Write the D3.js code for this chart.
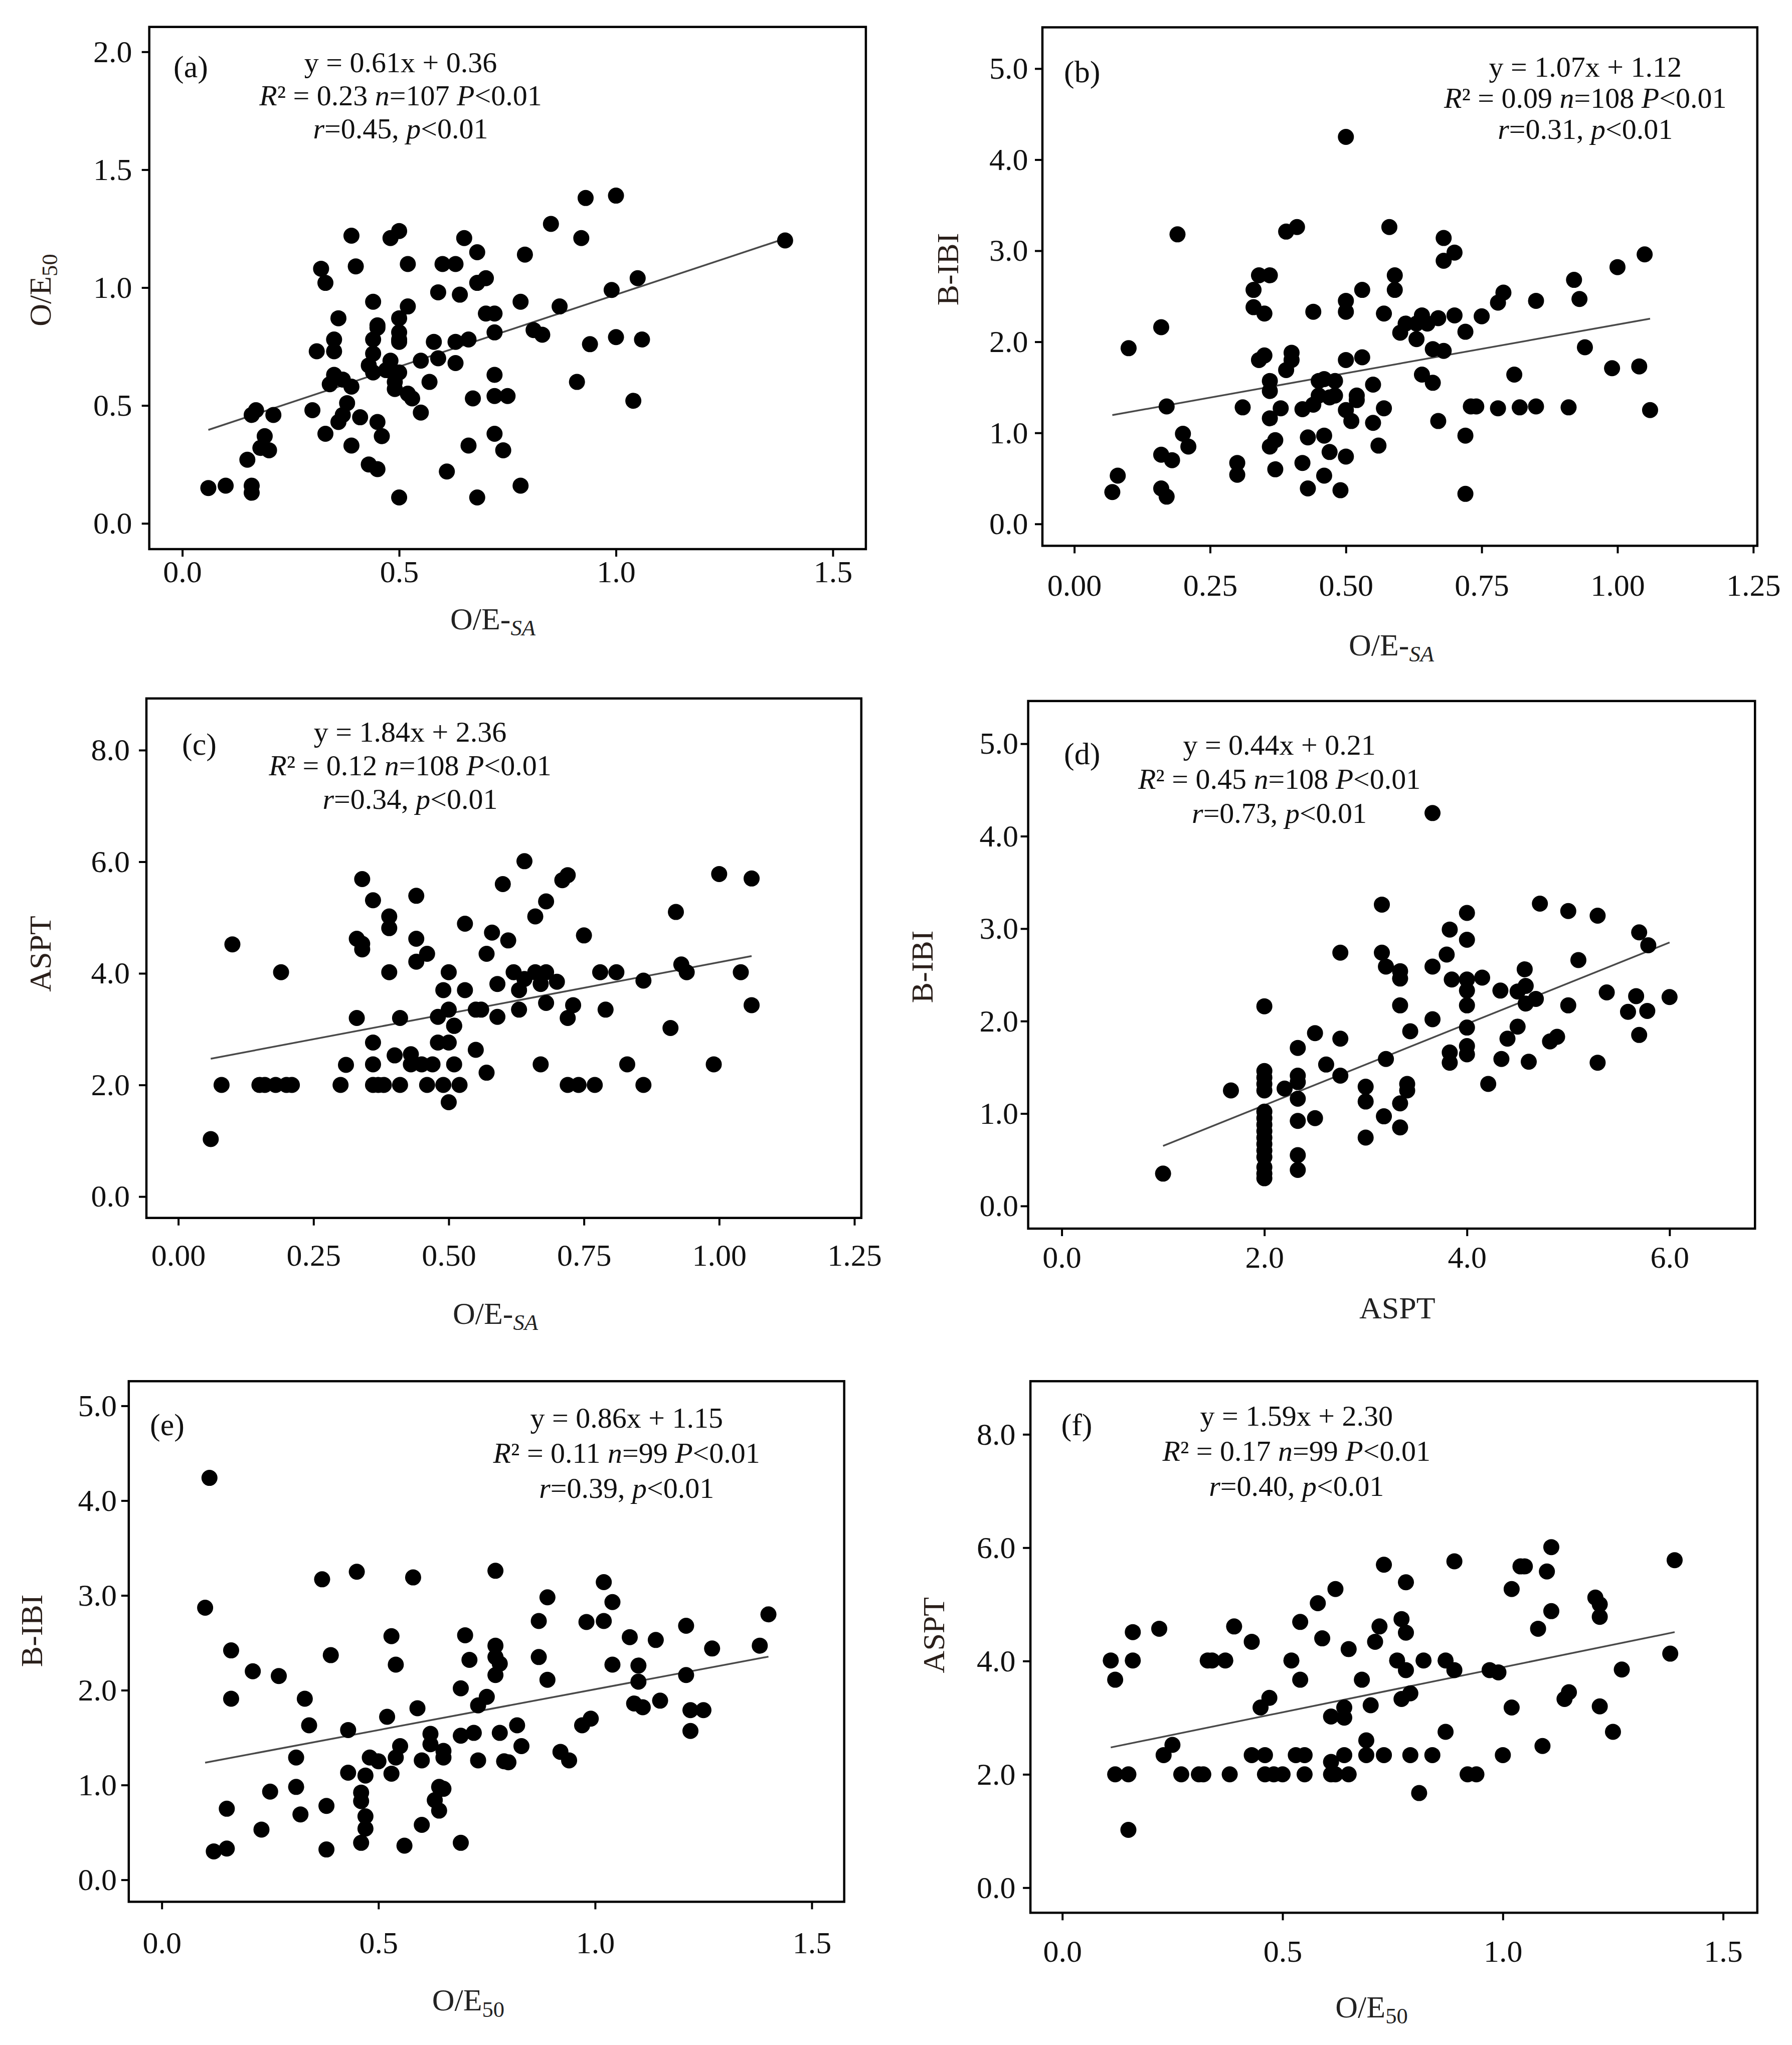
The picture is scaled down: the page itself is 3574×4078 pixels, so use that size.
<!DOCTYPE html>
<html>
<head>
<meta charset="utf-8">
<script src="https://cdn.jsdelivr.net/npm/d3@7"></script>
<style>
  body { margin: 0; background: #fff; }
  svg text { font-family: "Liberation Serif", "Times New Roman", serif; }
</style>
</head>
<body>
<svg id="fig"></svg>
<script>
// ---- data ----
var ptsA = [[0.06,0.15],[0.10,0.16],[0.16,0.16],[0.16,0.13],[0.15,0.27],[0.16,0.46],[0.17,0.48],[0.21,0.46],[0.19,0.37],[0.18,0.32],[0.20,0.31],[0.30,0.48],[0.33,0.38],[0.31,0.73],[0.32,1.08],[0.33,1.02],[0.35,0.78],[0.35,0.73],[0.36,0.87],[0.35,0.63],[0.34,0.59],[0.37,0.61],[0.39,0.58],[0.38,0.51],[0.37,0.46],[0.36,0.43],[0.39,0.33],[0.41,0.45],[0.39,1.22],[0.40,1.09],[0.44,0.94],[0.44,0.78],[0.45,0.83],[0.44,0.72],[0.43,0.67],[0.44,0.64],[0.45,0.43],[0.46,0.37],[0.43,0.25],[0.45,0.23],[0.48,0.69],[0.47,0.65],[0.49,0.57],[0.49,0.60],[0.50,0.81],[0.50,0.87],[0.50,0.77],[0.50,0.64],[0.48,1.21],[0.50,1.24],[0.52,1.10],[0.52,0.92],[0.52,0.55],[0.53,0.53],[0.55,0.47],[0.50,0.11],[0.55,0.69],[0.57,0.60],[0.58,0.77],[0.59,0.70],[0.59,0.98],[0.60,1.10],[0.61,0.22],[0.63,0.77],[0.64,0.97],[0.63,1.10],[0.63,0.68],[0.65,1.21],[0.66,0.78],[0.67,0.53],[0.66,0.33],[0.68,1.15],[0.68,1.02],[0.70,1.04],[0.70,0.89],[0.72,0.89],[0.72,0.81],[0.72,0.63],[0.72,0.54],[0.75,0.54],[0.72,0.38],[0.74,0.31],[0.68,0.11],[0.78,0.94],[0.78,0.16],[0.79,1.14],[0.81,0.82],[0.83,0.80],[0.85,1.27],[0.87,0.92],[0.91,0.60],[0.92,1.21],[0.93,1.38],[0.94,0.76],[0.99,0.99],[1.00,1.39],[1.00,0.79],[1.04,0.52],[1.05,1.04],[1.06,0.78],[1.39,1.20],[0.45,0.84],[0.50,0.78]];

var ptsB = [[0.07,0.35],[0.08,0.53],[0.10,1.93],[0.16,2.16],[0.17,1.29],[0.16,0.76],[0.18,0.70],[0.16,0.39],[0.17,0.30],[0.19,3.18],[0.20,0.99],[0.21,0.85],[0.30,0.67],[0.30,0.54],[0.31,1.28],[0.33,2.57],[0.33,2.38],[0.35,2.31],[0.34,2.73],[0.36,2.73],[0.34,1.80],[0.35,1.85],[0.36,1.46],[0.36,1.57],[0.36,1.16],[0.36,0.85],[0.37,0.92],[0.37,0.60],[0.38,1.27],[0.39,1.69],[0.40,1.80],[0.40,1.88],[0.39,3.21],[0.41,3.26],[0.42,1.26],[0.42,0.67],[0.43,0.39],[0.43,0.95],[0.44,1.31],[0.44,2.33],[0.45,1.57],[0.46,1.59],[0.45,1.41],[0.46,0.97],[0.47,0.79],[0.46,0.53],[0.47,1.39],[0.48,1.41],[0.48,1.57],[0.49,0.37],[0.50,4.25],[0.50,2.45],[0.50,2.33],[0.50,1.80],[0.50,1.25],[0.50,0.74],[0.51,1.13],[0.52,1.41],[0.52,1.36],[0.53,2.57],[0.53,1.83],[0.55,1.11],[0.55,1.53],[0.56,0.86],[0.57,1.27],[0.57,2.31],[0.58,3.26],[0.59,2.57],[0.59,2.73],[0.60,2.10],[0.61,2.20],[0.63,2.20],[0.64,2.29],[0.63,2.03],[0.64,1.64],[0.65,2.20],[0.66,1.92],[0.66,1.55],[0.67,1.13],[0.68,1.90],[0.68,3.14],[0.68,2.89],[0.70,2.98],[0.70,2.29],[0.72,0.97],[0.72,2.11],[0.73,1.29],[0.72,0.33],[0.74,1.29],[0.75,2.28],[0.78,1.27],[0.78,2.43],[0.79,2.54],[0.81,1.64],[0.82,1.28],[0.85,1.29],[0.85,2.45],[0.91,1.28],[0.92,2.68],[0.93,2.47],[0.94,1.94],[0.99,1.71],[1.00,2.82],[1.04,1.73],[1.05,2.96],[1.06,1.25],[0.67,2.26]];

var ptsC = [[0.06,1.03],[0.08,2.00],[0.10,4.52],[0.19,4.02],[0.15,2.00],[0.16,2.00],[0.18,2.00],[0.20,2.00],[0.21,2.00],[0.30,2.00],[0.31,2.36],[0.33,4.62],[0.34,4.43],[0.34,4.53],[0.34,5.69],[0.33,3.20],[0.36,2.76],[0.36,2.37],[0.36,2.00],[0.37,2.00],[0.38,2.00],[0.36,5.31],[0.39,5.02],[0.39,4.81],[0.39,4.02],[0.40,2.53],[0.41,3.20],[0.41,2.00],[0.43,2.55],[0.44,4.21],[0.44,5.39],[0.44,4.62],[0.46,4.35],[0.43,2.37],[0.45,2.37],[0.47,2.37],[0.46,2.00],[0.49,2.00],[0.48,3.22],[0.48,2.76],[0.50,4.02],[0.49,3.70],[0.50,3.35],[0.50,2.76],[0.51,3.06],[0.51,3.06],[0.50,1.69],[0.51,2.37],[0.52,2.00],[0.53,4.89],[0.53,3.70],[0.55,3.35],[0.56,3.35],[0.55,2.63],[0.57,2.22],[0.57,4.35],[0.58,4.73],[0.59,3.22],[0.59,3.81],[0.60,5.60],[0.61,4.59],[0.62,4.02],[0.63,3.70],[0.63,3.35],[0.64,6.01],[0.64,3.90],[0.66,5.02],[0.66,4.02],[0.67,3.81],[0.67,2.37],[0.68,4.02],[0.68,3.47],[0.68,5.29],[0.70,3.85],[0.71,5.67],[0.72,5.76],[0.72,3.20],[0.73,3.43],[0.72,2.00],[0.74,2.00],[0.75,4.68],[0.77,2.00],[0.78,4.02],[0.81,4.02],[0.79,3.35],[0.83,2.37],[0.86,3.87],[0.86,2.00],[0.91,3.02],[0.92,5.10],[0.93,4.16],[0.94,4.02],[0.99,2.37],[1.00,5.78],[1.04,4.02],[1.06,5.70],[1.06,3.43]];

var ptsD = [[1.00,0.35],[1.67,1.25],[2.00,2.16],[2.00,1.46],[2.00,1.39],[2.00,1.32],[2.00,1.25],[2.00,1.02],[2.00,0.95],[2.00,0.88],[2.00,0.81],[2.00,0.74],[2.00,0.67],[2.00,0.60],[2.00,0.53],[2.00,0.42],[2.00,0.35],[2.00,0.30],[2.20,1.27],[2.33,1.71],[2.33,1.41],[2.33,1.34],[2.33,1.16],[2.33,0.92],[2.33,0.55],[2.33,0.39],[2.50,1.87],[2.50,0.95],[2.61,1.53],[2.75,2.74],[2.75,1.81],[2.75,1.41],[3.00,1.29],[3.00,1.13],[3.00,0.74],[3.16,3.26],[3.16,2.74],[3.20,2.59],[3.20,1.59],[3.18,0.97],[3.34,2.54],[3.34,2.46],[3.34,2.17],[3.34,1.11],[3.34,0.85],[3.41,1.32],[3.41,1.25],[3.44,1.89],[3.66,2.59],[3.66,4.25],[3.66,2.02],[3.80,2.72],[3.83,2.99],[3.85,2.45],[3.83,1.66],[3.83,1.55],[4.00,3.17],[4.00,2.88],[4.00,2.45],[4.00,2.33],[4.00,2.17],[4.00,1.93],[4.00,1.73],[4.00,1.64],[4.15,2.47],[4.21,1.32],[4.33,2.33],[4.34,1.59],[4.40,1.81],[4.50,1.94],[4.50,2.32],[4.57,2.56],[4.58,2.38],[4.58,2.19],[4.61,1.56],[4.68,2.24],[4.72,3.27],[4.82,1.78],[4.89,1.83],[5.00,3.19],[5.00,2.17],[5.10,2.66],[5.29,3.14],[5.29,1.55],[5.38,2.31],[5.59,2.10],[5.67,2.27],[5.70,2.96],[5.70,1.85],[5.79,2.82],[5.78,2.11],[6.00,2.26]];

var ptsE = [[0.11,4.24],[0.10,2.87],[0.16,2.42],[0.16,1.91],[0.15,0.75],[0.12,0.30],[0.15,0.33],[0.21,2.20],[0.23,0.53],[0.25,0.93],[0.27,2.15],[0.31,1.29],[0.31,0.98],[0.33,1.91],[0.34,1.63],[0.32,0.69],[0.37,3.17],[0.39,2.37],[0.38,0.78],[0.38,0.32],[0.43,1.58],[0.43,1.13],[0.45,3.25],[0.46,0.92],[0.46,0.83],[0.47,1.10],[0.47,0.67],[0.47,0.54],[0.46,0.39],[0.48,1.29],[0.50,1.25],[0.52,1.72],[0.53,1.12],[0.53,2.57],[0.54,2.27],[0.55,1.41],[0.54,1.29],[0.56,0.36],[0.58,3.19],[0.59,1.81],[0.60,1.26],[0.60,0.58],[0.62,1.54],[0.62,1.43],[0.63,0.84],[0.64,0.98],[0.65,0.96],[0.64,0.73],[0.65,1.36],[0.65,1.29],[0.69,2.02],[0.69,1.52],[0.69,0.39],[0.70,2.58],[0.71,2.32],[0.72,1.55],[0.73,1.84],[0.73,1.26],[0.75,1.93],[0.77,3.26],[0.77,2.47],[0.77,2.35],[0.78,2.28],[0.77,2.16],[0.78,1.55],[0.79,1.25],[0.80,1.24],[0.82,1.63],[0.83,1.41],[0.87,2.73],[0.87,2.35],[0.89,2.11],[0.89,2.98],[0.92,1.35],[0.94,1.26],[0.97,1.63],[0.99,1.70],[0.98,2.72],[1.02,2.73],[1.02,3.14],[1.04,2.93],[1.04,2.27],[1.08,2.56],[1.10,2.09],[1.09,1.86],[1.11,1.82],[1.10,2.26],[1.14,2.53],[1.15,1.89],[1.21,2.68],[1.21,2.16],[1.22,1.79],[1.25,1.79],[1.22,1.57],[1.27,2.44],[1.38,2.47],[1.40,2.80]];

var ptsF = [[0.11,4.01],[0.12,3.67],[0.12,2.00],[0.15,2.00],[0.15,1.02],[0.16,4.51],[0.16,4.01],[0.22,4.57],[0.23,2.34],[0.25,2.52],[0.27,2.00],[0.31,2.00],[0.32,2.00],[0.33,4.01],[0.34,4.01],[0.37,4.01],[0.38,2.00],[0.39,4.61],[0.43,4.34],[0.43,2.34],[0.45,3.18],[0.46,2.34],[0.46,2.00],[0.48,2.00],[0.50,2.00],[0.47,3.35],[0.52,4.01],[0.54,3.67],[0.54,4.69],[0.53,2.34],[0.55,2.34],[0.55,2.00],[0.58,5.02],[0.59,4.40],[0.61,3.02],[0.61,2.22],[0.61,2.00],[0.62,2.00],[0.65,2.00],[0.62,5.27],[0.64,3.18],[0.64,3.00],[0.64,2.34],[0.65,4.21],[0.68,3.67],[0.69,2.34],[0.69,2.60],[0.70,3.22],[0.71,4.34],[0.72,4.61],[0.73,5.70],[0.73,2.34],[0.76,4.01],[0.77,4.74],[0.78,4.50],[0.77,3.33],[0.79,3.43],[0.78,5.39],[0.78,3.84],[0.79,2.34],[0.81,1.67],[0.82,4.01],[0.84,2.34],[0.87,2.75],[0.87,4.01],[0.89,3.84],[0.89,5.76],[0.92,2.00],[0.94,2.00],[0.97,3.84],[0.99,3.80],[1.00,2.34],[1.02,3.18],[1.02,5.27],[1.04,5.67],[1.05,5.67],[1.08,4.57],[1.09,2.50],[1.10,5.58],[1.11,6.01],[1.11,4.88],[1.14,3.33],[1.15,3.45],[1.21,5.12],[1.22,5.00],[1.22,4.78],[1.22,3.20],[1.25,2.75],[1.27,3.85],[1.38,4.13],[1.39,5.78]];

// regression fits printed on each panel
var tags = ['(a)', '(b)', '(c)', '(d)', '(e)', '(f)'];
var slopes = [0.61, 1.07, 1.84, 0.44, 0.86, 1.59];
var intercepts = [0.36, 1.12, 2.36, 0.21, 1.15, 2.30];
var rSquared = ['0.23', '0.09', '0.12', '0.45', '0.11', '0.17'];
var nSamples = ['107', '108', '108', '108', '99', '99'];
var rValues = ['0.45', '0.31', '0.34', '0.73', '0.39', '0.40'];

// tick labels
var ticksOE = [0, 0.5, 1.0, 1.5];
var ticksSA = [0, 0.25, 0.5, 0.75, 1.0, 1.25];
var ticksASPTx = [0, 2, 4, 6];
var ticksOEy = [0, 0.5, 1.0, 1.5, 2.0];
var ticksIBI = [0, 1, 2, 3, 4, 5];
var ticksASPTy = [0, 2, 4, 6, 8];

// axis titles: [main, subscript, italic subscript?]
var titleOESA = ['O/E-', 'SA', true];
var titleOE50 = ['O/E', '50', false];
var titleIBI = ['B-IBI', '', false];
var titleASPT = ['ASPT', '', false];

var FS_TICK = 62, FS_ANN = 58, FS_TITLE = 62, TICK_LEN = 15, DOT_R = 16;

// layout per panel (pixels)
var panels = [
  { pts: ptsA, xt: ticksOE, yt: ticksOEy, xf: '.1f', yf: '.1f', xTitle: titleOESA, yTitle: titleOE50,
    x0: 363.6, x1: 1661, xv1: 1.5, y0: 1043.7, y1: 103.3, yv1: 2,
    box: [297.7, 53.7, 1726.9, 1095], xlabY: 1140, xtit: [983, 1233], ylabR: 263.6, ytit: [79.5, 578.5],
    tag: [346, 132], ann: [799, 124, 66] },
  { pts: ptsB, xt: ticksSA, yt: ticksIBI, xf: '.2f', yf: '.1f', xTitle: titleOESA, yTitle: titleIBI,
    x0: 2142.6, x1: 3496.8, xv1: 1.25, y0: 1044.8, y1: 136.8, yv1: 5,
    box: [2079, 54.5, 3504.8, 1088.4], xlabY: 1166.5, xtit: [2775, 1285], ylabR: 2050.6, ytit: [1889, 537],
    tag: [2122, 142.7], ann: [3161.7, 132.6, 62] },
  { pts: ptsC, xt: ticksSA, yt: ticksASPTy, xf: '.2f', yf: '.1f', xTitle: titleOESA, yTitle: titleASPT,
    x0: 355.6, x1: 1704, xv1: 1.25, y0: 2386.1, y1: 1495.9, yv1: 8,
    box: [292, 1392.8, 1717.8, 2428.7], xlabY: 2502.8, xtit: [988, 2617.9], ylabR: 259, ytit: [79.5, 1902],
    tag: [363, 1483], ann: [818, 1459, 67] },
  { pts: ptsD, xt: ticksASPTx, yt: ticksIBI, xf: '.1f', yf: '.1f', xTitle: titleASPT, yTitle: titleIBI,
    x0: 2117.6, x1: 3329.8, xv1: 6, y0: 2404.9, y1: 1483.1, yv1: 5,
    box: [2050.6, 1397.9, 3500.2, 2450], xlabY: 2507, xtit: [2786.8, 2607.6], ylabR: 2031, ytit: [1838, 1927.8],
    tag: [2122, 1501.9], ann: [2551.6, 1484.8, 68] },
  { pts: ptsE, xt: ticksOE, yt: ticksIBI, xf: '.1f', yf: '.1f', xTitle: titleOE50, yTitle: titleIBI,
    x0: 322.7, x1: 1619, xv1: 1.5, y0: 3748.6, y1: 2803.4, yv1: 5,
    box: [256.8, 2754.3, 1683.7, 3792.4], xlabY: 3873.8, xtit: [933.9, 3987.7], ylabR: 233, ytit: [62.5, 3251.9],
    tag: [299, 2840], ann: [1249.7, 2827, 70] },
  { pts: ptsF, xt: ticksOE, yt: ticksASPTy, xf: '.1f', yf: '.1f', xTitle: titleOE50, yTitle: titleASPT,
    x0: 2118.7, x1: 3436.6, xv1: 1.5, y0: 3764.3, y1: 2860.3, yv1: 8,
    box: [2055.1, 2754.3, 3504.8, 3814.3], xlabY: 3891.4, xtit: [2735.6, 4000.9], ylabR: 2025.6, ytit: [1860.8, 3260.6],
    tag: [2116.5, 2840], ann: [2585.7, 2822.6, 70] }
];

var svg = d3.select('#fig').attr('width', 3574).attr('height', 4078);

function addTitle(sel, t) {
  sel.append('tspan').text(t[0]);
  if (t[1]) {
    sel.append('tspan')
      .attr('font-size', '0.72em')
      .attr('dy', '0.28em')
      .attr('font-style', t[2] ? 'italic' : 'normal')
      .text(t[1]);
  }
}

panels.forEach(function (p, i) {
  var g = svg.append('g').attr('class', 'panel');
  var b = p.box;

  var x = d3.scaleLinear().domain([0, p.xv1]).range([p.x0, p.x1]);
  var y = d3.scaleLinear().domain([0, p.yv1]).range([p.y0, p.y1]);

  // frame
  g.append('rect')
    .attr('x', b[0]).attr('y', b[1])
    .attr('width', b[2] - b[0]).attr('height', b[3] - b[1])
    .attr('fill', 'none').attr('stroke', '#000').attr('stroke-width', 4.5);

  // axes
  var xPad = p.xlabY - b[3] - TICK_LEN - 0.37 * FS_TICK;
  var xAxis = g.append('g')
    .attr('transform', 'translate(0,' + b[3] + ')')
    .call(d3.axisBottom(x).tickValues(p.xt).tickSize(TICK_LEN).tickPadding(xPad).tickFormat(d3.format(p.xf)));
  var yAxis = g.append('g')
    .attr('transform', 'translate(' + b[0] + ',0)')
    .call(d3.axisLeft(y).tickValues(p.yt).tickSize(TICK_LEN).tickPadding(b[0] - p.ylabR - TICK_LEN).tickFormat(d3.format(p.yf)));

  [xAxis, yAxis].forEach(function (ax) {
    ax.select('.domain').remove();
    ax.attr('font-size', null).attr('font-family', null);
    ax.selectAll('line').attr('stroke', '#000').attr('stroke-width', 4);
    ax.selectAll('text').attr('font-size', FS_TICK).attr('fill', '#111');
  });

  // regression line over the observed x range
  var ext = d3.extent(p.pts, function (d) { return d[0]; });
  g.append('path')
    .datum(ext)
    .attr('fill', 'none')
    .attr('stroke', '#4a4a4a')
    .attr('stroke-width', 3.5)
    .attr('d', d3.line()
      .x(function (d) { return x(d); })
      .y(function (d) { return y(slopes[i] * d + intercepts[i]); }));

  // points
  g.selectAll('circle.pt')
    .data(p.pts)
    .enter().append('circle')
    .attr('class', 'pt')
    .attr('cx', function (d) { return x(d[0]); })
    .attr('cy', function (d) { return y(d[1]); })
    .attr('r', DOT_R)
    .attr('fill', '#000');

  // panel tag
  g.append('text')
    .attr('x', p.tag[0]).attr('y', p.tag[1] + 0.35 * FS_TICK)
    .attr('font-size', FS_TICK).attr('fill', '#111')
    .text(tags[i]);

  // statistics
  var ax0 = p.ann[0], ay = p.ann[1] + 0.35 * FS_ANN, lh = p.ann[2];
  var l1 = g.append('text').attr('x', ax0).attr('y', ay)
    .attr('text-anchor', 'middle').attr('font-size', FS_ANN).attr('fill', '#111');
  l1.text('y = ' + slopes[i].toFixed(2) + 'x + ' + intercepts[i].toFixed(2));

  var l2 = g.append('text').attr('x', ax0).attr('y', ay + lh)
    .attr('text-anchor', 'middle').attr('font-size', FS_ANN).attr('fill', '#111');
  l2.append('tspan').attr('font-style', 'italic').text('R');
  l2.append('tspan').text('\u00b2 = ' + rSquared[i] + ' ');
  l2.append('tspan').attr('font-style', 'italic').text('n');
  l2.append('tspan').text('=' + nSamples[i] + ' ');
  l2.append('tspan').attr('font-style', 'italic').text('P');
  l2.append('tspan').text('<0.01');

  var l3 = g.append('text').attr('x', ax0).attr('y', ay + 2 * lh)
    .attr('text-anchor', 'middle').attr('font-size', FS_ANN).attr('fill', '#111');
  l3.append('tspan').attr('font-style', 'italic').text('r');
  l3.append('tspan').text('=' + rValues[i] + ', ');
  l3.append('tspan').attr('font-style', 'italic').text('p');
  l3.append('tspan').text('<0.01');

  // axis titles
  var xt = g.append('text')
    .attr('x', p.xtit[0]).attr('y', p.xtit[1] + 0.35 * FS_TITLE)
    .attr('text-anchor', 'middle').attr('font-size', FS_TITLE).attr('fill', '#222');
  addTitle(xt, p.xTitle);

  var yt = g.append('text')
    .attr('transform', 'translate(' + p.ytit[0] + ',' + p.ytit[1] + ') rotate(-90)')
    .attr('y', 0.35 * FS_TITLE)
    .attr('text-anchor', 'middle').attr('font-size', FS_TITLE).attr('fill', '#2a1f1a');
  addTitle(yt, p.yTitle);
});
</script>
</body>
</html>
